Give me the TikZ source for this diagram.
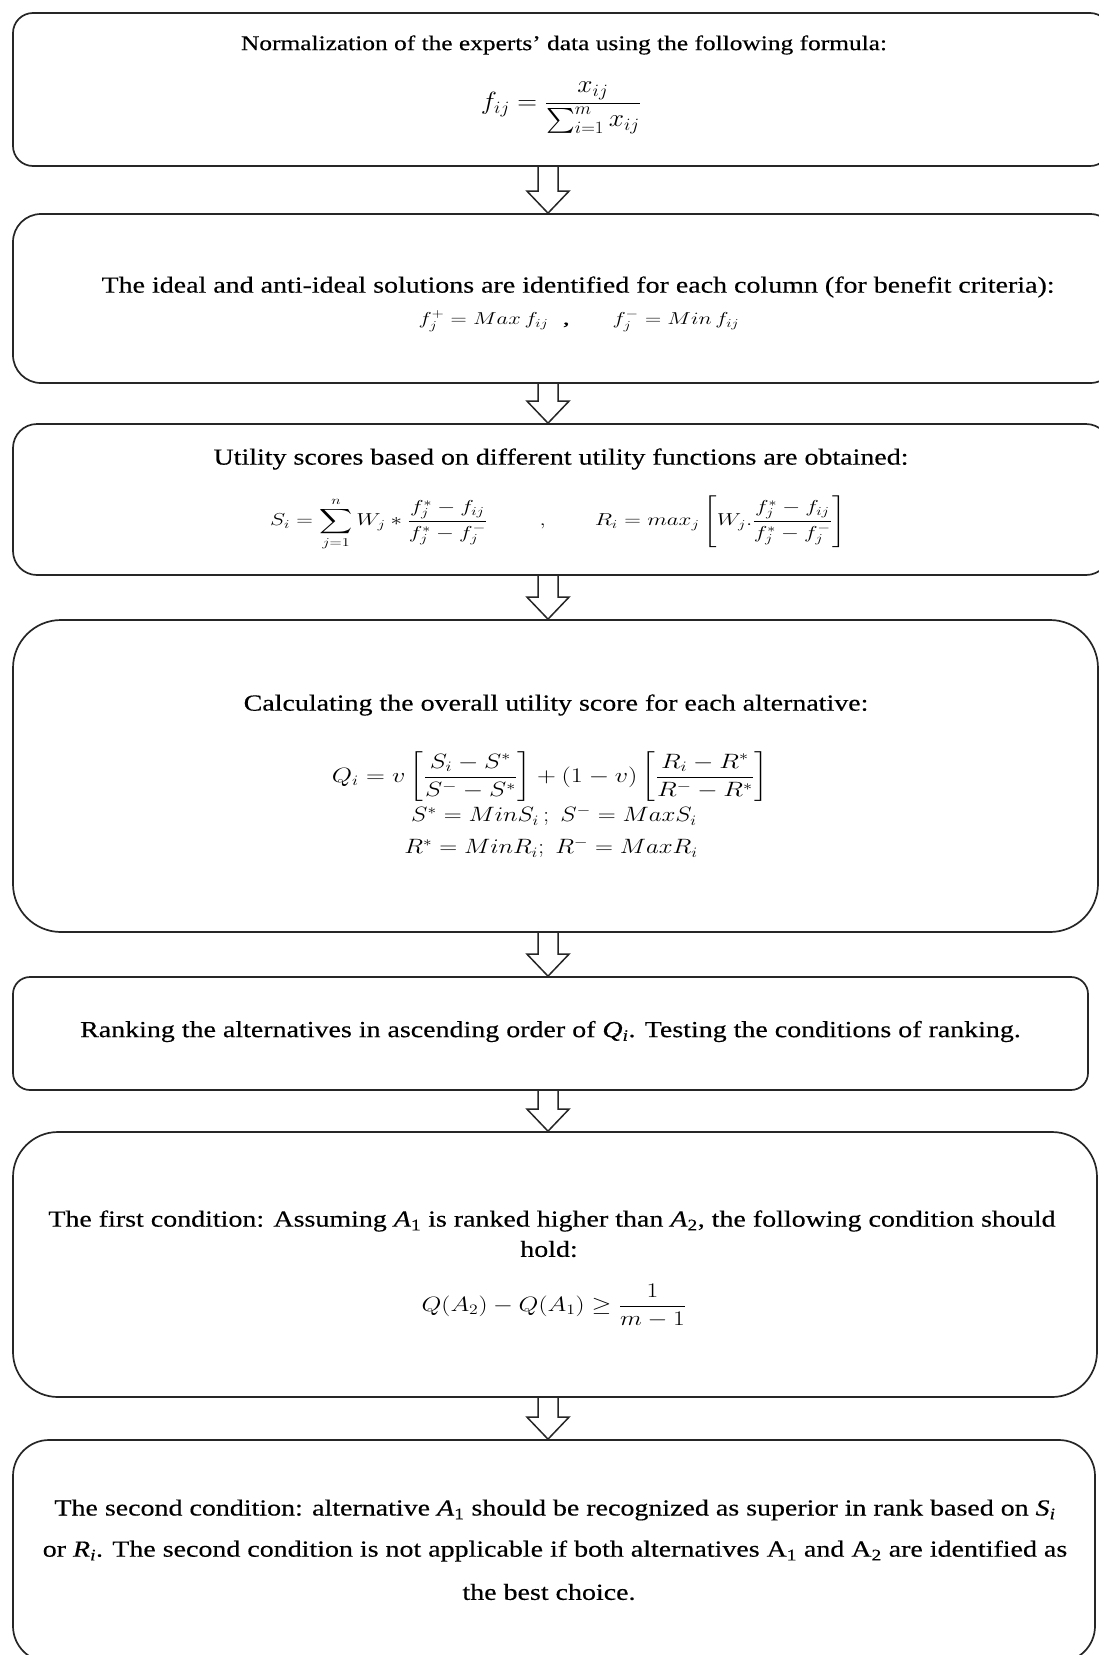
\documentclass[tikz,border=0pt]{standalone}
\usepackage{amsmath}
\usepackage{fontspec}
\setmainfont{Liberation Serif}[FakeStretch=1.215, FakeBold=0.4]
\usetikzlibrary{calc}
\newcommand\hollowarrow[2]{%
  \draw[arrowline] let \p1=(#1), \p2=(#2) in
    (\x1-10pt,\y1) -- (\x1-10pt,\y2+22pt) -- (\x1-21pt,\y2+22pt) -- (\x1,\y2)
    -- (\x1+21pt,\y2+22pt) -- (\x1+10pt,\y2+22pt) -- (\x1+10pt,\y1);}
\newcommand\xs[2]{\scalebox{#1}[1]{#2}}
\begin{document}
\begin{tikzpicture}[x=1pt,y=-1pt,
  box/.style={draw=black!85, line width=1.7pt, rectangle, inner sep=0pt},
  txt/.style={inner sep=0pt, font=\fontsize{23}{28}\selectfont},
  mth/.style={inner sep=0pt, font=\fontsize{20}{28}\selectfont},
  arrowline/.style={draw=black!85, line width=1.5pt, line join=miter}]
\useasboundingbox (0,0) rectangle (1099,1655);
\fill[white] (0,0) rectangle (1099,1655);

% boxes
\node[box, minimum width=1097pt, minimum height=153pt, rounded corners=20pt] (b1) at (561.5,89.5) {};
\node[box, minimum width=1105pt, minimum height=169pt, rounded corners=28pt] (b2) at (565.5,298.5) {};
\node[box, minimum width=1097pt, minimum height=151pt, rounded corners=24pt] (b3) at (561.5,499.5) {};
\node[box, minimum width=1085pt, minimum height=312pt, rounded corners=48pt] (b4) at (555.5,776) {};
\node[box, minimum width=1075pt, minimum height=113pt, rounded corners=17pt] (b5) at (550.5,1033.5) {};
\node[box, minimum width=1084pt, minimum height=265pt, rounded corners=45pt] (b6) at (555,1264.5) {};
\node[box, minimum width=1082pt, minimum height=222pt, rounded corners=36pt] (b7) at (554,1551) {};

% texts
\node[txt, font=\fontsize{20.9}{28}\selectfont] (t1a) at (564,45) {Normalization of the experts’ data using the following formula:};
\node[mth, font=\fontsize{23}{28}\selectfont] (t1b) at (561,108) {\xs{1.1}{$\displaystyle f_{ij}=\frac{x_{ij}}{\sum_{i=1}^{m}x_{ij}}$}};

\node[txt] (t2a) at (578,287) {The ideal and anti-ideal solutions are identified for each column (for benefit criteria):};
\node[mth, font=\fontsize{18}{22}\selectfont] (t2b) at (579,321) {\xs{1.3}{$f_j^{+}=Max\,f_{ij}$\hspace{11pt},\hspace{33pt}$f_j^{-}=Min\,f_{ij}$}};

\node[txt] (t3a) at (561,459) {Utility scores based on different utility functions are obtained:};
\node[mth, font=\fontsize{17}{22}\selectfont] (t3b) at (558,523) {\xs{1.33}{$\displaystyle S_i=\sum_{j=1}^{n}W_j*\frac{f_j^{*}-f_{ij}}{f_j^{*}-f_j^{-}}\qquad\ ,\qquad R_i=max_j\left[W_j.\frac{f_j^{*}-f_{ij}}{f_j^{*}-f_j^{-}}\right]$}};

\node[txt] (t4a) at (556,705) {Calculating the overall utility score for each alternative:};
\node[mth] (t4b) at (550,777) {\xs{1.26}{$\displaystyle Q_i=v\left[\frac{S_i-S^{*}}{S^{-}-S^{*}}\right]+(1-v)\left[\frac{R_i-R^{*}}{R^{-}-R^{*}}\right]$}};
\node[mth] (t4c) at (554,816) {\xs{1.2}{$S^{*}=MinS_i\,;\;S^{-}=MaxS_i$}};
\node[mth] (t4d) at (551,848) {\xs{1.2}{$R^{*}=MinR_i;\;R^{-}=MaxR_i$}};

\node[txt] (t5) at (550.5,1031.5) {Ranking the alternatives in ascending order of \textit{Q\textsubscript{i}}. Testing the conditions of ranking.};

\node[txt] (t6a) at (552,1221) {The first condition: Assuming \textit{A}\textsubscript{1} is ranked higher than \textit{A}\textsubscript{2}, the following condition should};
\node[txt] (t6b) at (549,1249) {hold:};
\node[mth] (t6c) at (554,1306) {\xs{1.23}{$\displaystyle Q(A_2)-Q(A_1)\geq\frac{1}{m-1}$}};

\node[txt] (t7a) at (555,1510) {The second condition: alternative \textit{A}\textsubscript{1} should be recognized as superior in rank based on \textit{S\textsubscript{i}}};
\node[txt] (t7b) at (555,1551) {or \textit{R\textsubscript{i}}. The second condition is not applicable if both alternatives A\textsubscript{1} and A\textsubscript{2} are identified as};
\node[txt] (t7c) at (549,1592) {the best choice.};

% connectors
\coordinate (ax) at (548,0);
\hollowarrow{b1.south -| ax}{b2.north -| ax}
\hollowarrow{b2.south -| ax}{b3.north -| ax}
\hollowarrow{b3.south -| ax}{b4.north -| ax}
\hollowarrow{b4.south -| ax}{b5.north -| ax}
\hollowarrow{b5.south -| ax}{b6.north -| ax}
\hollowarrow{b6.south -| ax}{b7.north -| ax}
\end{tikzpicture}
\end{document}
